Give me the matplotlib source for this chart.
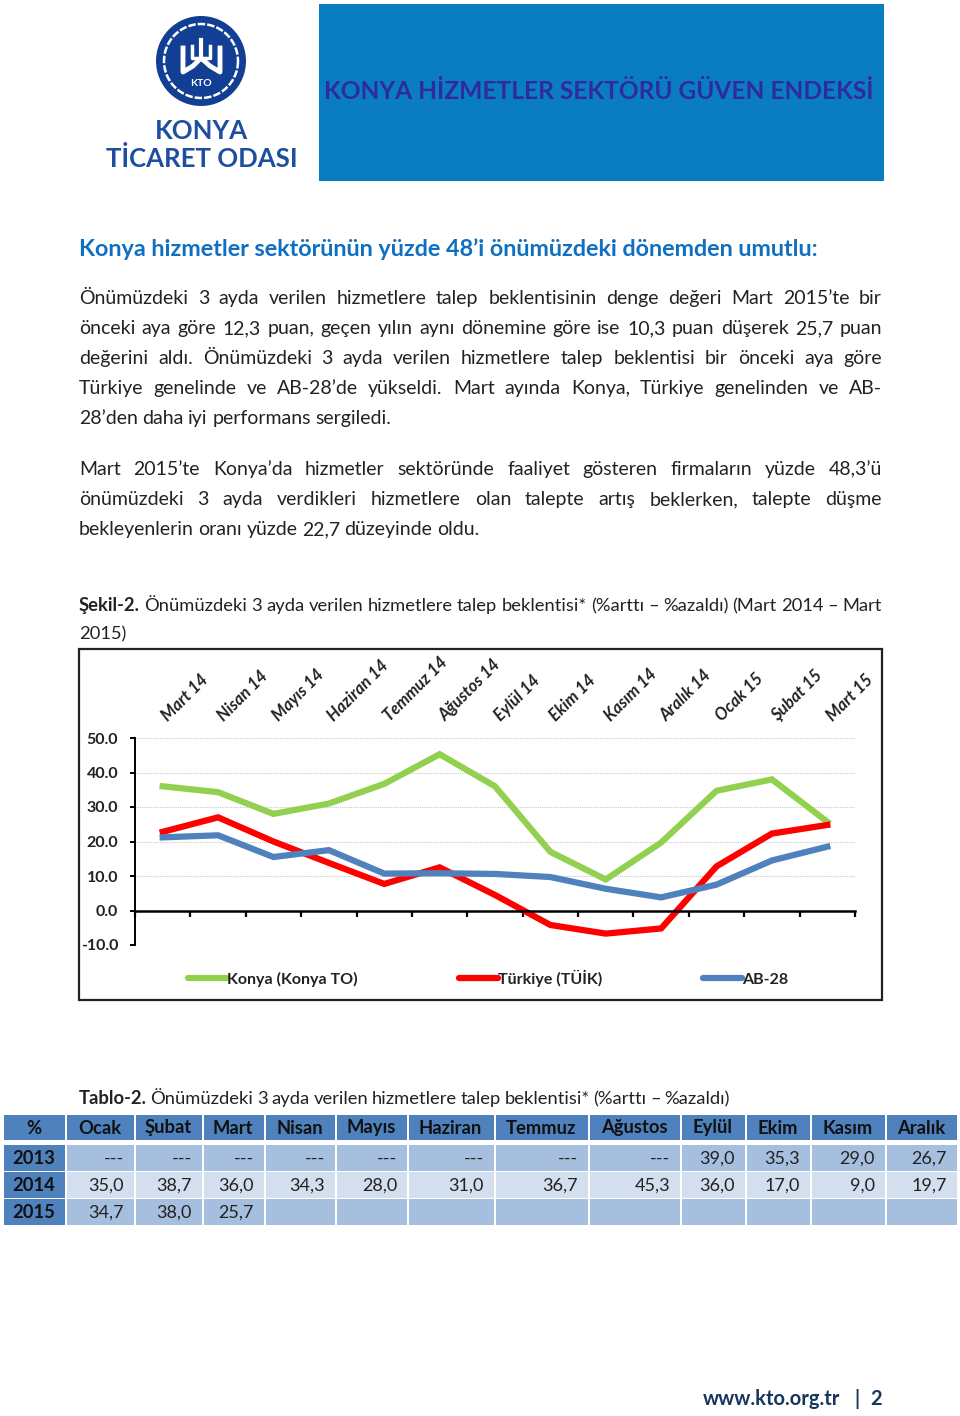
import numpy as np
import matplotlib
matplotlib.use("Agg")
import matplotlib.pyplot as plt
from matplotlib.patches import Rectangle, Circle

plt.rcParams["font.family"] = ["Lato", "DejaVu Sans"]

# ---------- data ----------
months = ["Mart 14", "Nisan 14", "Mayıs 14", "Haziran 14", "Temmuz 14", "Ağustos 14", "Eylül 14",
          "Ekim 14", "Kasım 14", "Aralık 14", "Ocak 15", "Şubat 15", "Mart 15"]
konya = [36.0, 34.3, 28.0, 31.0, 36.7, 45.3, 36.0, 17.0, 9.0, 19.7, 34.7, 38.0, 25.7]
turkiye = [22.8, 27.0, 20.0, 13.8, 7.7, 12.5, 4.5, -4.2, -6.7, -5.2, 12.8, 22.3, 24.8]
ab28 = [21.2, 21.8, 15.5, 17.5, 10.7, 10.8, 10.6, 9.7, 6.3, 3.8, 7.5, 14.5, 18.5]
y_ticks = [-10, 0, 10, 20, 30, 40, 50]

table_head = ["%", "Ocak", "Şubat", "Mart", "Nisan", "Mayıs", "Haziran", "Temmuz", "Ağustos",
              "Eylül", "Ekim", "Kasım", "Aralık"]
row_2013 = ["2013", "---", "---", "---", "---", "---", "---", "---", "---", "39,0", "35,3", "29,0", "26,7"]
row_2014 = ["2014", "35,0", "38,7", "36,0", "34,3", "28,0", "31,0", "36,7", "45,3", "36,0", "17,0", "9,0", "19,7"]
row_2015 = ["2015", "34,7", "38,0", "25,7", "", "", "", "", "", "", "", "", ""]

para1 = ["Önümüzdeki 3 ayda verilen hizmetlere talep beklentisinin denge değeri Mart 2015’te bir",
         "önceki aya göre 12,3 puan, geçen yılın aynı dönemine göre ise 10,3 puan düşerek 25,7 puan",
         "değerini aldı. Önümüzdeki 3 ayda verilen hizmetlere talep beklentisi bir önceki aya göre",
         "Türkiye genelinde ve AB-28’de yükseldi. Mart ayında Konya, Türkiye genelinden ve AB-",
         "28’den daha iyi performans sergiledi."]
para2 = ["Mart 2015’te Konya’da hizmetler sektöründe faaliyet gösteren firmaların yüzde 48,3’ü",
         "önümüzdeki 3 ayda verdikleri hizmetlere olan talepte artış beklerken, talepte düşme",
         "bekleyenlerin oranı yüzde 22,7 düzeyinde oldu."]

# ---------- config ----------
W, H = 960, 1416
BODY = 14.0
GREEN, RED, BLUE = "#92d050", "#ff0000", "#4f81bd"

fig = plt.figure(figsize=(W / 100, H / 100), dpi=100, facecolor="white")
bg = fig.add_axes([0, 0, 1, 1])
bg.set_xlim(0, W)
bg.set_ylim(H, 0)
bg.axis("off")
renderer = fig.canvas.get_renderer()


def line(text, x0, x1, y, justify=True, size=BODY, bold_words=0, color="#222222"):
    # places word by word so the line can be stretched to the text block
    words = text.split(" ")
    items = []
    for k, w in enumerate(words):
        t = bg.text(x0, y, w, fontsize=size, color=color, va="baseline", ha="left",
                    fontweight="bold" if k < bold_words else "normal")
        items.append((t, t.get_window_extent(renderer).width))
    total = sum(i[1] for i in items)
    gap = (x1 - x0 - total) / (len(words) - 1) if justify and len(words) > 1 else size * 0.32
    x = x0
    for t, wd in items:
        t.set_x(x)
        x += wd + gap


# ---------- logo and banner ----------
bg.add_patch(Rectangle((319, 4), 565, 177, fc="#0a7dc2", ec="none"))
bg.text(599, 99, "KONYA HİZMETLER SEKTÖRÜ GÜVEN ENDEKSİ", fontsize=17.65, fontweight="bold",
        color="#2f2a9e", ha="center", va="baseline")
bg.add_patch(Circle((201, 61), 45, fc="#123f94", ec="none"))
ang = np.linspace(0, 2 * np.pi, 200)
bg.plot(201 + 37 * np.cos(ang), 61 + 37 * np.sin(ang), color="white", lw=1.8, ls=(0, (3, 0.8)))
bg.plot([183, 183, 193, 201, 210, 220, 220], [48, 72, 66, 58, 66, 72, 48], color="white", lw=3.5)
bg.plot([192, 192, 210, 210], [46, 58, 58, 46], color="white", lw=2.5)
bg.plot([201, 201], [40, 58], color="white", lw=3)
bg.text(201, 84, "KTO", fontsize=7.5, fontweight="bold", color="white", ha="center", va="center")
bg.text(201, 139, "KONYA", fontsize=18.5, fontweight="bold", color="#1d4f9e", ha="center", va="baseline")
bg.text(202, 167, "TİCARET ODASI", fontsize=18.5, fontweight="bold", color="#1d4f9e", ha="center", va="baseline")

# ---------- body text ----------
bg.text(79, 256, "Konya hizmetler sektörünün yüzde 48’i önümüzdeki dönemden umutlu:", fontsize=16.8,
        fontweight="bold", color="#0f6fc1", va="baseline")
for k, s in enumerate(para1):
    line(s, 79, 882, 304 + 30 * k, justify=k < 4)
for k, s in enumerate(para2):
    line(s, 79, 882, 475 + 30 * k, justify=k < 2)
line("Şekil-2. Önümüzdeki 3 ayda verilen hizmetlere talep beklentisi* (%arttı – %azaldı) (Mart 2014 – Mart",
     79, 882, 611, size=13.2, bold_words=1)
line("2015)", 79, 882, 639, justify=False, size=13.2)
bg.add_patch(Rectangle((78.5, 648.5), 803, 351, fc="white", ec="#222222", lw=1.6))
line("Tablo-2. Önümüzdeki 3 ayda verilen hizmetlere talep beklentisi* (%arttı – %azaldı)",
     79, 730, 1104, size=13.2, bold_words=1)

# ---------- chart ----------
left, right, top, bottom = 135, 855, 738, 945
ax = fig.add_axes([left / W, 1 - bottom / H, (right - left) / W, (bottom - top) / H])
ax.patch.set_alpha(0)
x = np.arange(len(months))
ax.plot(x, konya, color=GREEN, lw=4.5, solid_joinstyle="miter", label="Konya (Konya TO)")
ax.plot(x, turkiye, color=RED, lw=4.5, solid_joinstyle="miter", label="Türkiye (TÜİK)")
ax.plot(x, ab28, color=BLUE, lw=4.5, solid_joinstyle="miter", label="AB-28")
ax.set_xlim(-0.5, len(months) - 0.5)
ax.set_ylim(-10, 50)
ax.set_yticks(y_ticks)
ax.set_yticklabels([f"{v:.1f}" for v in y_ticks], fontsize=11.5, fontweight="bold", color="#222222")
ax.yaxis.grid(True, color="#c8c8c8", lw=0.8, ls=(0, (1, 1)))
ax.set_axisbelow(True)
ax.set_xticks(np.arange(len(months) + 1) - 0.5)
ax.set_xticklabels([])
ax.tick_params(axis="x", direction="out", length=4, width=1.6, color="black")
ax.tick_params(axis="y", direction="out", length=3.6, width=1.4, color="black", pad=8.6)
for s in ["top", "right"]:
    ax.spines[s].set_visible(False)
ax.spines["left"].set_linewidth(1.4)
ax.spines["bottom"].set_position(("data", 0))
ax.spines["bottom"].set_linewidth(1.8)
for i, m in enumerate(months):
    ax.annotate(m, xy=(i, 1), xycoords=ax.get_xaxis_transform(), xytext=(1.5, 14), textcoords="offset points",
                rotation=45, rotation_mode="anchor", ha="left", va="center", fontsize=12,
                fontweight="bold", fontstyle="italic", color="#222222")
leg = ax.legend(loc="upper left", bbox_to_anchor=(53 / 720, -0.12), ncol=3, frameon=False, borderpad=0,
                borderaxespad=0, handlelength=2.45, handletextpad=0, columnspacing=6.33,
                prop={"size": 11.5, "weight": "bold"})
for t in leg.get_texts():
    t.set_color("#222222")
for h in leg.get_lines():
    h.set_solid_capstyle("round")

# ---------- table ----------
col_edges = [(4, 65), (67, 134), (136, 202), (204, 264), (266, 335), (337, 407), (409, 494), (496, 588),
             (590, 680), (682, 745), (747, 810), (812, 885), (887, 957)]
rows = [(table_head, 1115, 1140, "#4f81bd", "#111111"),
        (row_2013, 1145, 1171, "#a7bfde", "#222222"),
        (row_2014, 1172, 1198, "#d3dfee", "#222222"),
        (row_2015, 1199, 1225, "#a7bfde", "#222222")]
for r, (cells, y0, y1, fc, col) in enumerate(rows):
    for c, ((x0, x1), val) in enumerate(zip(col_edges, cells)):
        first = r > 0 and c == 0
        bg.add_patch(Rectangle((x0, y0), x1 - x0, y1 - y0, fc="#4f81bd" if first else fc, ec="none"))
        yb = (y0 + y1) / 2 + 6
        if r == 0 or first:
            bg.text((x0 + x1) / 2 - 1, yb, val, fontsize=13.2, fontweight="bold", color="#111111",
                    ha="center", va="baseline")
        elif val:
            bg.text(x1 - 10, yb, val, fontsize=13, color=col, ha="right", va="baseline")

# ---------- footer ----------
bg.text(703, 1405, "www.kto.org.tr", fontsize=14.5, fontweight="bold", color="#16365c", va="baseline")
bg.text(857, 1405, "|", fontsize=14.5, fontweight="bold", color="#16365c", va="baseline", ha="center")
bg.text(882, 1405, "2", fontsize=14.5, fontweight="bold", color="#16365c", va="baseline", ha="right")

fig.savefig("out.png", dpi=100)
